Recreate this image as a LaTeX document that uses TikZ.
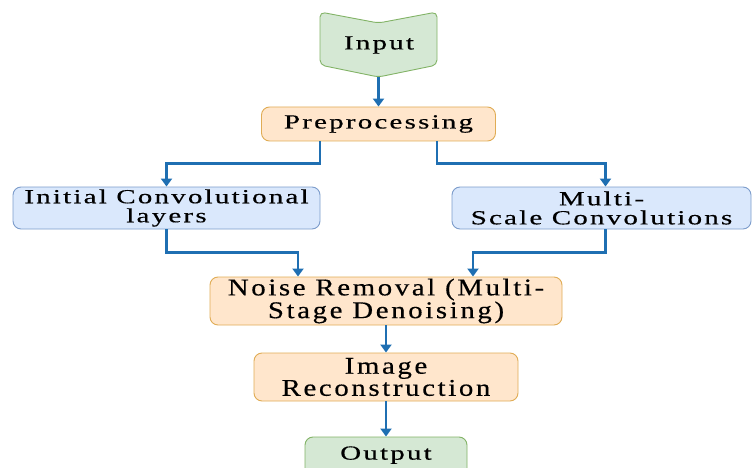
\documentclass[tikz,border=0pt]{standalone}
\usepackage{fontspec}
\setmainfont{Liberation Serif}
\newfontfamily\fa{Liberation Serif}[FakeStretch=1.45,LetterSpace=11,FakeBold=0.4]
\newfontfamily\fb{Liberation Serif}[FakeStretch=1.2,LetterSpace=11,FakeBold=0.4]
\usetikzlibrary{arrows.meta,calc}
\definecolor{gfill}{HTML}{D5E8D4}
\definecolor{gline}{HTML}{82B366}
\definecolor{ofill}{HTML}{FFE6CC}
\definecolor{oline}{HTML}{E0AC55}
\definecolor{bfill}{HTML}{DAE8FC}
\definecolor{bline}{HTML}{7C9CCB}
\definecolor{arr}{HTML}{1F6FB2}
\tikzset{
  txta/.style={font=\fa\fontsize{20}{19}\selectfont},
  txtb/.style={font=\fb\fontsize{24}{19.5}\selectfont},
  box/.style={draw, line width=0.9pt, rounded corners=8pt, align=center, inner sep=0pt},
  obox/.style={box, fill=ofill, draw=oline},
  bbox/.style={box, fill=bfill, draw=bline},
  gbox/.style={box, fill=gfill, draw=gline},
  conn/.style={draw=arr, line width=2.4pt, -{Triangle[width=11pt,length=8pt]}},
}
\begin{document}
\begin{tikzpicture}[x=1pt,y=-1pt]
\useasboundingbox (0,0) rectangle (752,468);
\clip (0,0) rectangle (752,468);
% Input chevron
\draw[fill=gfill, draw=gline, line width=0.9pt, rounded corners=5pt]
  (320,12) -- (378.5,23) -- (437,12) -- (437,65) -- (378.5,77) -- (320,65) -- cycle;
\node[txta] (in) at (379,45) {Input};
\coordinate (intip) at (378.5,77);
% boxes
\node[obox, txta, minimum width=234pt, minimum height=34pt] (pre) at (378.5,124) {Preprocessing};
\node[bbox, txta, minimum width=307pt, minimum height=42pt] (left) at (166.5,208) {Initial Convolutional\\layers};
\node[bbox, txta, minimum width=299pt, minimum height=42pt] (right) at (601.5,208) {Multi-\\Scale Convolutions};
\node[obox, txtb, minimum width=352pt, minimum height=48pt] (noise) at (386,301) {Noise Removal (Multi-\\Stage Denoising)};
\node[obox, txtb, minimum width=264pt, minimum height=48pt] (recon) at (386,377) {Image\\Reconstruction};
\node[gbox, font=\fa\fontsize{20}{19}\selectfont, minimum width=162pt, minimum height=40pt, text depth=8pt] (out) at (386,457) {Output};
% connectors
\draw[conn] (intip) -- (intip |- pre.north);
\draw[conn] ([xshift=-58.5pt]pre.south) -- ++(0,22) -| (left.north);
\draw[conn] ([xshift=58.5pt]pre.south) -- ++(0,22) -| ([xshift=4pt]right.north);
\draw[conn] (left.south) -- ++(0,23) -| ([xshift=-88pt]noise.north);
\draw[conn] ([xshift=4pt]right.south) -- ++(0,23) -| ([xshift=87pt]noise.north);
\draw[conn] (noise.south) -- (recon.north);
\draw[conn] (recon.south) -- (out.north);
\end{tikzpicture}
\end{document}
